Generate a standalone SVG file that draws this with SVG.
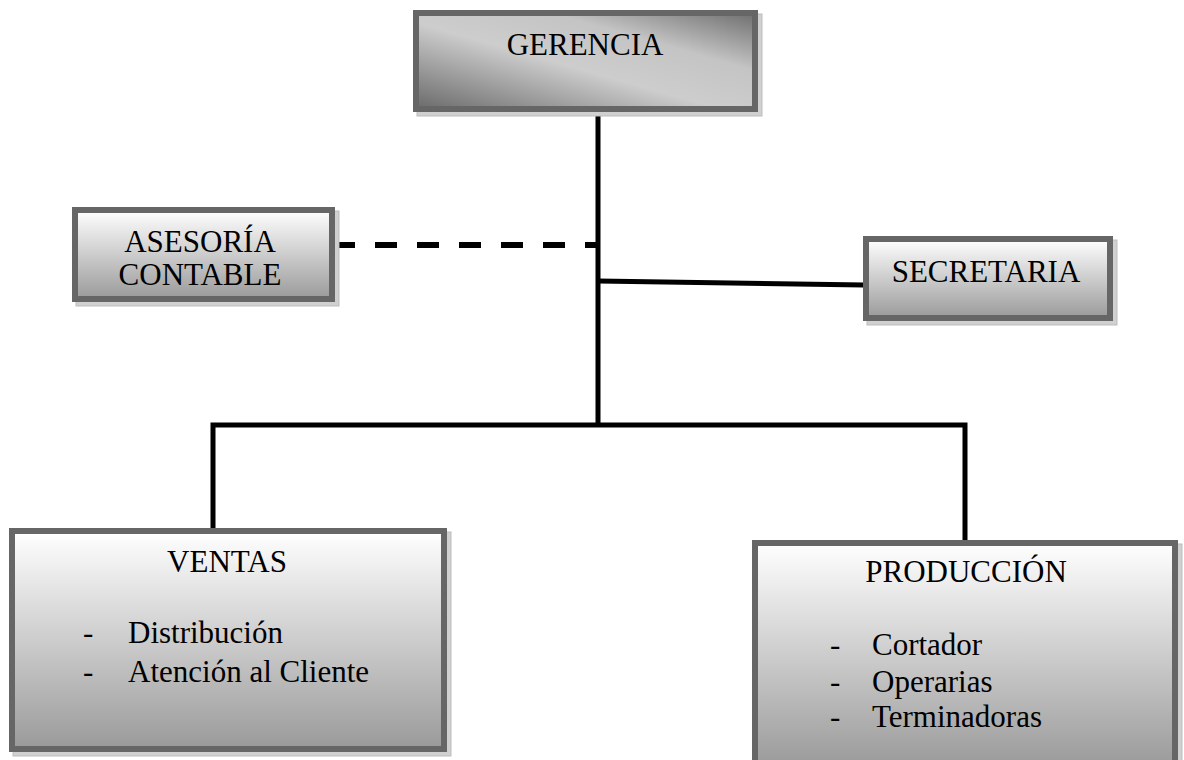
<svg xmlns="http://www.w3.org/2000/svg" width="1184" height="760" viewBox="0 0 1184 760">
<defs>
<linearGradient id="gDiag" x1="0" y1="1" x2="1" y2="0">
<stop offset="0" stop-color="#6a6a6a"/>
<stop offset="0.45" stop-color="#cdcdcd"/>
<stop offset="0.7" stop-color="#c4c4c4"/>
<stop offset="1" stop-color="#6e6e6e"/>
</linearGradient>
<linearGradient id="gVert" x1="0" y1="0" x2="0" y2="1">
<stop offset="0" stop-color="#ffffff"/>
<stop offset="1" stop-color="#9a9a9a"/>
</linearGradient>
</defs>
<style>
.box{stroke:#666;stroke-width:6}
.shadow{fill:#d0d0d0;stroke:#bdbdbd;stroke-width:1}
.t{font-family:"Liberation Serif","Times New Roman",serif;font-size:31px;fill:#000}
.ln{stroke:#000;stroke-width:5;fill:none}
.dash{stroke:#000;stroke-width:6;fill:none;stroke-dasharray:22 20}
</style>
<rect width="1184" height="760" fill="#fff"/>
<g id="connectors">
<line class="ln" x1="598" y1="113" x2="598" y2="427"/>
<line class="dash" x1="333" y1="245" x2="598" y2="245"/>
<line class="ln" x1="598" y1="281" x2="864" y2="285"/>
<polyline class="ln" points="213,529 213,425 965,425 965,541"/>
</g>
<g id="gerencia">
<rect class="shadow" x="417" y="14" width="345" height="102"/>
<rect class="box" x="416" y="13" width="339" height="96" fill="url(#gDiag)"/>
<text class="t" x="585" y="55" text-anchor="middle">GERENCIA</text>
</g>
<g id="asesoria">
<rect class="shadow" x="76" y="211" width="263" height="95"/>
<rect class="box" x="75" y="210" width="257" height="89" fill="url(#gVert)"/>
<text class="t" x="200" y="252" text-anchor="middle">ASESORÍA</text>
<text class="t" x="200" y="285" text-anchor="middle">CONTABLE</text>
</g>
<g id="secretaria">
<rect class="shadow" x="867" y="240" width="250" height="85"/>
<rect class="box" x="866" y="239" width="244" height="79" fill="url(#gVert)"/>
<text class="t" x="986" y="282" text-anchor="middle">SECRETARIA</text>
</g>
<g id="ventas">
<rect class="shadow" x="13" y="532" width="438" height="224"/>
<rect class="box" x="12" y="531" width="432" height="218" fill="url(#gVert)"/>
<text class="t" x="227" y="572" text-anchor="middle">VENTAS</text>
<text class="t" x="83" y="643">-</text>
<text class="t" x="128" y="643">Distribución</text>
<text class="t" x="83" y="682">-</text>
<text class="t" x="128" y="682">Atención al Cliente</text>
</g>
<g id="produccion">
<rect class="shadow" x="756" y="544" width="426" height="224"/>
<rect class="box" x="755" y="543" width="420" height="224" fill="url(#gVert)"/>
<text class="t" x="966" y="582" text-anchor="middle">PRODUCCIÓN</text>
<text class="t" x="830" y="655">-</text>
<text class="t" x="872" y="655">Cortador</text>
<text class="t" x="830" y="692">-</text>
<text class="t" x="872" y="692">Operarias</text>
<text class="t" x="830" y="727">-</text>
<text class="t" x="872" y="727">Terminadoras</text>
</g>
</svg>
